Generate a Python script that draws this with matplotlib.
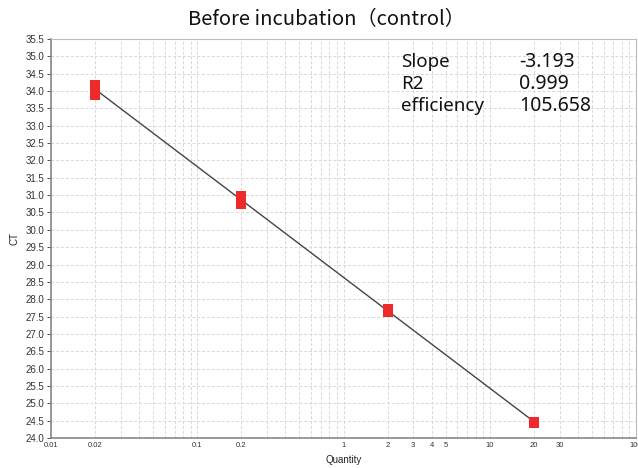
import matplotlib
matplotlib.use("Agg")
import matplotlib.pyplot as plt
import numpy as np
from matplotlib.ticker import FixedLocator, FixedFormatter, NullFormatter

# Data
quantities = [0.02, 0.02, 0.02, 0.2, 0.2, 0.2, 2, 2, 2, 20, 20, 20]
ct_values = [34.16, 34.05, 33.90, 30.98, 30.86, 30.75, 27.73, 27.68, 27.62, 24.47, 24.45, 24.43]
slope = -3.193
intercept = 28.63
r2 = 0.999
efficiency = 105.658
line_range = [0.02, 20]
x_tick_values = [0.01, 0.02, 0.1, 0.2, 1, 2, 3, 4, 5, 10, 20, 30, 100]
x_tick_labels = ["0.01", "0.02", "0.1", "0.2", "1", "2", "3", "4", "5", "10", "20", "30", "100"]
y_ticks = np.arange(24.0, 35.51, 0.5)

plt.rcParams['font.family'] = ['Liberation Sans', 'DejaVu Sans']

fig = plt.figure(figsize=(6.38, 4.68), dpi=100)
ax = fig.add_axes([51/638, 1-438/468, (636-51)/638, (438-39)/468])

ax.set_xscale('log')
ax.set_xlim(0.01, 100)
ax.set_ylim(24.0, 35.5)

# grid
ax.xaxis.set_major_locator(FixedLocator(x_tick_values))
ax.xaxis.set_major_formatter(FixedFormatter(x_tick_labels))
minor = [m * 10.0**e for e in range(-2, 2) for m in range(2, 10)]
ax.xaxis.set_minor_locator(FixedLocator(minor))
ax.xaxis.set_minor_formatter(NullFormatter())
ax.set_yticks(y_ticks)
ax.set_yticklabels([f"{v:.1f}" for v in y_ticks])
ax.grid(True, which='both', axis='x', linestyle=(0, (3, 2)), color='#d8d8d8', linewidth=0.7)
ax.grid(True, which='major', axis='y', linestyle=(0, (3, 2)), color='#d8d8d8', linewidth=0.7)
ax.set_axisbelow(True)

ax.tick_params(axis='x', which='both', length=0, labelsize=5.5, pad=3, colors='#333333')
ax.tick_params(axis='y', which='major', length=3, width=0.6, labelsize=7, pad=2, colors='#333333', direction='out')

for s in ['left', 'bottom']:
    ax.spines[s].set_color('#888888')
    ax.spines[s].set_linewidth(1.2)
for s in ['top', 'right']:
    ax.spines[s].set_color('#bbbbbb')
    ax.spines[s].set_linewidth(0.8)

# regression line
lx = np.array(line_range)
ly = intercept + slope * np.log10(lx)
ax.plot(lx, ly, color='#444444', linewidth=1.0, zorder=3)

# points
ax.plot(quantities, ct_values, linestyle='none', marker='s', markersize=6.5,
        color='#ee2a2a', markeredgewidth=0, zorder=4)

ax.set_xlabel("Quantity", fontsize=7, labelpad=4, color='#222222')
ax.set_ylabel("CT", fontsize=7, labelpad=4, color='#222222')

fig.text(326/638, 1-20/468, "Before incubation（control）", ha='center', va='center',
         fontsize=14.5, family=['Noto Sans CJK JP', 'DejaVu Sans'], color='#111111')

ann = ['Noto Sans', 'DejaVu Sans']
rows = [("Slope", f"{slope:.3f}"), ("R2", f"{r2:.3f}"), ("efficiency", f"{efficiency:.3f}")]
for i, (k, v) in enumerate(rows):
    y = 1 - (62 + i * 22) / 468
    fig.text(401/638, y, k, ha='left', va='center', fontsize=13.5, family=ann, color='#111111')
    fig.text(519/638, y, v, ha='left', va='center', fontsize=14, family=ann, color='#111111')

fig.savefig("out.png", dpi=100)
